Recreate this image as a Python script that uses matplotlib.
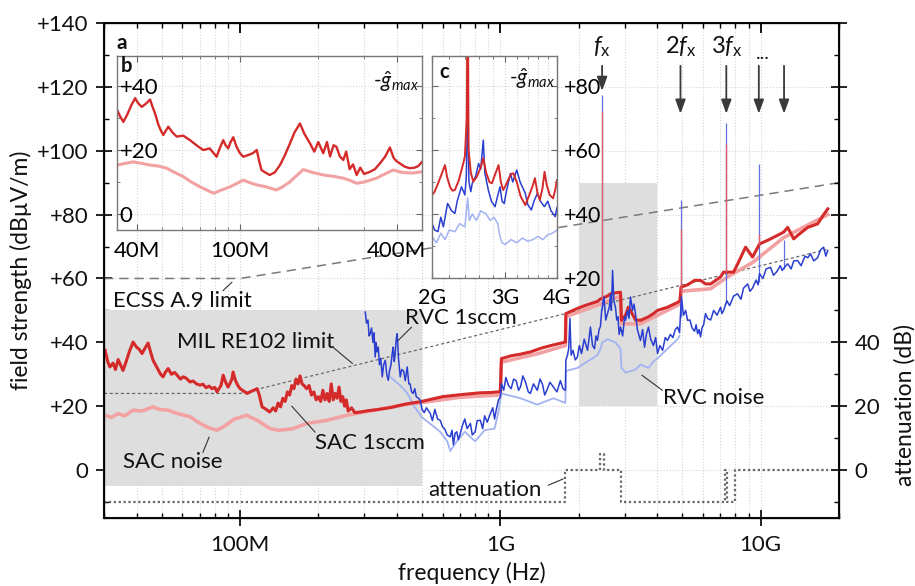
import numpy as np
import matplotlib
matplotlib.use("Agg")
import matplotlib.pyplot as plt
from matplotlib.ticker import FixedLocator, FuncFormatter, NullFormatter, MultipleLocator, LogLocator
from matplotlib.patches import Rectangle

plt.rcParams["font.family"] = ["Lato", "DejaVu Sans"]
plt.rcParams["mathtext.fontset"] = "custom"
plt.rcParams["mathtext.rm"] = "Lato"
plt.rcParams["mathtext.it"] = "Lato:italic"
plt.rcParams["mathtext.bf"] = "Lato:bold"

MHZ = 1e6

# ---------------- main panel data (frequency in MHz, level in dB) ----------------
sac_1sccm_f = [30.3, 31.0, 31.6, 32.5, 33.2, 34.0, 34.7, 35.5, 36.5, 37.5,
               38.8, 40.0, 41.0, 42.0, 43.0, 44.3, 45.3, 46.3, 48.0, 49.5,
               50.6, 51.5, 52.9, 54.5, 56.0, 57.3, 59.0, 60.5, 62.0, 64.2,
               66.0, 68.0, 70.2, 72.0, 74.0, 76.0, 78.0, 80.0, 81.5, 83.0,
               84.5, 86.1, 88.0, 89.9, 91.5, 93.0, 94.0, 96.0, 98.0, 100,
               103, 106.4, 110, 113, 116.3, 118.5, 121.5, 125, 130, 134,
               137, 140, 143, 146, 149, 152, 155, 158, 161, 164,
               167, 170, 173, 176, 180, 184, 188, 192, 196, 200,
               204, 208, 212, 216, 220, 224, 228, 232, 236, 240,
               244, 248, 252, 256, 260, 268, 276, 290, 310, 340,
               380, 440, 492, 524, 600, 700, 837, 920, 982, 1000,
               1009, 1100, 1194, 1304, 1450, 1600, 1778, 1785, 1900, 2000,
               2162, 2360, 2424, 2579, 2649, 2768, 2894,
               2919, 3027, 3100, 3162, 3304, 3452, 3707, 3874, 4017, 4385,
               4794, 4900, 4945, 5238, 5574, 5875, 6140, 6425, 7017,
               7211, 7469, 7872, 8154, 8750, 9311, 9780,
               9900, 10920, 11220, 12250, 12700, 13400, 13870, 15170, 16550,
               17460, 18110]
sac_1sccm_db = [37.5, 34.0, 32.3, 33.5, 31.5, 34.6, 33.0, 31.2, 34.0, 37.0,
                40.1, 38.5, 37.8, 36.5, 38.0, 39.8, 37.0, 34.4, 32.0, 30.0,
                29.2, 30.5, 31.8, 30.0, 30.6, 29.7, 28.5, 29.2, 28.8, 27.6,
                27.9, 27.0, 26.6, 26.9, 25.8, 26.3, 25.5, 25.9, 24.5, 25.5,
                26.5, 29.7, 27.5, 26.0, 27.2, 28.5, 30.7, 28.0, 26.5, 25.5,
                24.8, 24.0, 24.6, 25.0, 25.5, 23.5, 19.8, 19.2, 18.2, 19.5,
                18.5, 21.0, 19.8, 22.5, 21.5, 24.5, 23.5, 26.5, 25.5, 28.5,
                27.0, 29.5, 27.0, 26.5, 25.5, 26.5, 23.5, 24.5, 22.0, 23.0,
                21.5, 25.0, 22.0, 24.0, 21.5, 27.0, 22.0, 24.0, 22.5, 26.0,
                21.5, 23.0, 20.0, 22.0, 18.5, 19.5, 18.0, 18.2, 18.6, 19.0,
                19.6, 20.8, 21.4, 21.9, 23.0, 23.6, 24.2, 24.3, 24.5, 24.6,
                34.9, 35.8, 36.3, 37.0, 38.3, 39.2, 40.1, 49.0, 50.0, 50.8,
                51.8, 52.8, 53.6, 54.5, 55.2, 55.5, 55.7,
                46.9, 48.5, 51.0, 50.0, 47.0, 46.9, 48.0, 49.0, 50.0, 51.0,
                52.5, 53.0, 57.3, 58.0, 59.4, 59.4, 58.3, 58.3, 60.5,
                62.0, 62.0, 62.0, 64.5, 69.8, 66.7, 70.0,
                70.8, 72.4, 72.9, 74.5, 76.0, 72.4, 73.5, 76.0, 77.1,
                80.0, 81.8]

sac_noise_f = [30.3, 32, 34, 36, 38.8, 42, 46.3, 49, 52.9, 57,
               64.2, 70.2, 76, 81.5, 86, 90, 95, 100, 106, 110,
               116.3, 122, 130.4, 140, 150, 160, 180, 216, 258, 330,
               412, 524, 700, 982, 1000, 1009, 1400, 1778, 1785, 2424,
               2894, 2919, 3450, 4900, 4945, 6425, 7469, 9311, 12250, 18110]
sac_noise_db = [17.2, 16.5, 17.7, 17.0, 18.75, 18.5, 19.8, 19.0, 18.75, 17.8,
                16.7, 14.6, 13.2, 12.5, 13.5, 14.6, 16.0, 16.5, 17.2, 16.5,
                15.6, 14.5, 13.0, 12.5, 12.7, 13.0, 14.6, 15.6, 17.2, 18.75,
                20.3, 21.4, 22.8, 23.5, 23.6, 33.8, 36.5, 39.0, 48.0, 52.0,
                54.5, 45.8, 45.8, 52.0, 56.0, 56.8, 60.5, 65.0, 72.8, 80.0]

rvc_1sccm_f = [302.6, 306, 310, 313, 316.2, 320, 324, 327, 330.4, 333,
               336, 339.6, 343, 347, 351.7, 356, 361.3, 366, 370.9, 375,
               380, 384, 387.6, 391, 394, 398, 401.5, 406, 412.4, 418,
               425, 431, 438.5, 445, 450, 456, 462.6, 469, 475, 484,
               492.4, 500, 510, 520, 538, 548, 560, 574, 587, 600,
               610, 625, 642, 652, 660, 670, 680, 690, 701.7, 715,
               730, 745, 767, 780, 800, 815, 837.5, 855, 870, 890,
               915.5, 935, 950, 965, 982.5, 1000, 1009, 1030, 1050, 1075,
               1100, 1125, 1150, 1175, 1194, 1220, 1250, 1280, 1304, 1340,
               1387, 1420, 1450, 1480, 1500, 1550, 1600, 1650, 1700, 1740,
               1778, 1785, 1811, 1830, 1850, 1870, 1900, 1940, 1977, 2010,
               2050, 2100, 2162, 2190, 2218, 2260, 2300, 2330, 2360, 2395,
               2424, 2450, 2480, 2500, 2540, 2579, 2620, 2649, 2670,
               2698, 2730, 2768, 2800, 2830, 2860, 2894, 2950, 3000, 3027,
               3080, 3120, 3162, 3220, 3260, 3304, 3360, 3400, 3452, 3520,
               3580, 3640, 3707, 3780, 3874, 3950, 4017, 4100, 4200, 4300,
               4385, 4500, 4600, 4700, 4794, 4880, 4960, 5050, 5150,
               5238, 5350, 5450, 5574, 5650, 5727, 5800, 5875, 5950, 6037,
               6140, 6255, 6425, 6600, 6800, 7017, 7100, 7211, 7340,
               7420, 7600, 7872, 8154, 8400, 8600, 8912, 9100, 9311, 9600,
               9780, 9900, 10200, 10500, 10920, 11200, 11500, 11900, 12100,
               12350, 12700, 13100, 13400, 13870, 14300, 14800, 15170, 15560, 16000,
               16550, 17000, 17460, 17800, 18110]
rvc_1sccm_db = [49.5, 46.0, 47.0, 42.0, 42.7, 44.5, 40.0, 43.0, 35.4, 40.0,
                37.0, 38.5, 33.0, 35.0, 29.2, 33.0, 34.4, 30.0, 28.1, 31.0,
                33.0, 36.5, 38.5, 34.0, 36.0, 41.0, 42.7, 35.0, 29.2, 31.5,
                31.0, 28.0, 32.3, 27.0, 27.0, 24.5, 24.0, 25.5, 23.0, 22.5,
                21.9, 19.0, 18.0, 19.5, 17.7, 15.5, 19.0, 16.0, 15.6, 13.5,
                13.0, 11.0, 10.4, 12.5, 8.0, 11.5, 12.0, 9.5, 11.5, 14.0,
                16.0, 13.0, 14.6, 11.0, 12.0, 15.5, 15.6, 13.0, 17.0, 15.0,
                17.7, 19.5, 16.0, 19.0, 21.9, 23.0, 27.1, 25.0, 29.0, 26.5,
                25.5, 28.5, 28.0, 25.0, 26.0, 29.5, 27.5, 24.5, 24.0, 27.0,
                25.0, 28.5, 27.0, 23.5, 24.5, 27.5, 26.0, 24.5, 28.0, 25.5,
                25.0, 34.4, 36.0, 38.0, 47.5, 36.0, 37.5, 34.5, 35.4, 39.0,
                36.5, 41.0, 37.5, 41.0, 44.8, 39.0, 38.0, 42.0, 40.6, 44.0,
                45.0, 50.0, 52.0, 54.2, 47.0, 49.0, 51.0, 55.0, 50.0,
                62.5, 53.0, 51.0, 47.0, 48.0, 42.5, 44.8, 42.0, 48.0, 46.9,
                50.0, 47.5, 54.2, 50.0, 52.0, 49.0, 44.0, 42.5, 40.6, 44.0,
                38.5, 42.5, 44.8, 41.0, 39.0, 41.5, 36.5, 39.0, 37.5, 41.5,
                40.6, 42.5, 41.5, 44.0, 44.8, 43.0, 54.2, 48.5, 50.0,
                46.9, 47.0, 44.5, 43.5, 45.5, 42.7, 44.0, 41.7, 44.5, 45.5,
                49.0, 47.5, 47.0, 50.0, 48.5, 51.0, 49.0, 50.0, 52.0,
                53.0, 51.5, 54.5, 55.2, 53.5, 57.0, 58.3, 56.0, 57.0, 59.5,
                58.0, 61.5, 60.0, 63.0, 63.5, 61.0, 62.0, 64.0, 62.5,
                63.5, 64.6, 63.0, 65.5, 65.6, 64.0, 67.0, 66.5, 67.7, 65.5,
                66.5, 69.0, 69.8, 67.0, 68.75]

rvc_noise_f = [380, 412, 440, 462, 500, 538, 587, 625, 642, 680,
               730, 800, 870, 950, 982, 1009, 1194, 1387, 1600, 1778,
               1785, 1977, 2162, 2360, 2424, 2466, 2579, 2768, 2894, 2919,
               3027, 3162, 3304, 3452, 3707, 3874, 4017, 4385, 4794, 4880]
rvc_noise_db = [29.0, 26.5, 24.0, 20.5, 16.5, 14.5, 12.0, 9.0, 6.0, 9.0,
                12.0, 9.0, 12.5, 13.0, 18.0, 24.0, 22.5, 20.5, 22.5, 21.0,
                31.0, 32.0, 34.0, 36.0, 38.0, 40.0, 41.0, 40.0, 38.0, 32.0,
                30.5, 31.0, 31.5, 33.0, 32.0, 34.0, 35.0, 38.0, 41.0, 42.0]

# narrow emission lines at the harmonics of the drive frequency
red_line_f = [2466, 4924, 7380, 9840]
red_line_base = [53.6, 55.0, 62.0, 70.4]
red_line_top = [112.5, 75.6, 102.0, 74.0]
blue_line_f = [2466, 4924, 7380, 9840, 12250]
blue_line_base = [50.0, 48.0, 52.0, 59.0, 63.0]
blue_line_top = [117.5, 84.7, 108.7, 96.0, 71.9]

attenuation_f = [30, 1778, 1778, 2420, 2420, 2510, 2510, 2919,
                 2919, 7300, 7300, 7450, 7450, 8000, 8000, 18110]
attenuation_db = [-10, -10, 0, 0, 5, 5, 0, 0,
                  -10, -10, 0, 0, -10, -10, 0, 0]

ecss_f = [30, 100, 20000]
ecss_db = [60, 60, 90]
mil_f = [30, 100, 18000]
mil_db = [24, 24, 69.1]

# frequency bands magnified in insets b and c (MHz, dB)
band_b = (30, 500, -5, 50)
band_c = (2000, 4000, 20, 90)

# harmonics of the drive frequency
fx_mhz = 2460
harmonics = [1, 2, 3, 4, 5]
harmonic_labels = [r"$f_\mathrm{x}$", r"$2f_\mathrm{x}$", r"$3f_\mathrm{x}$", "...", None]

# ---------------- inset b data: -g_max (dB) ----------------
gb_1sccm_f = [33.7, 34.6, 35.6, 36.8, 38.2, 39.5, 40.7, 41.9, 43.5, 45.1,
              46.1, 47.1, 48.5, 49.7, 50.7, 51.8, 53.0, 55.0, 57.1, 60.5,
              64.2, 68.0, 72.2, 76.5, 81.3, 83.5, 86.2, 88.0, 90.1, 92.0,
              94.2, 97.0, 100, 103, 108, 112, 116, 118.5, 121, 125,
              130, 136, 142.5, 149, 155.7, 162, 170, 177, 185.8, 193,
              200, 209, 216, 222, 229, 235, 242, 249.6, 256, 264,
              272, 281, 290, 300, 316, 330, 345, 362, 377, 390,
              400, 412, 430, 450, 470, 485, 501]
gb_1sccm_db = [32.5, 30.5, 28.8, 31.0, 34.0, 36.2, 34.5, 33.5, 34.5, 35.8,
               33.5, 31.5, 28.0, 26.0, 24.7, 26.0, 27.3, 25.5, 24.2, 24.5,
               23.1, 21.5, 20.0, 20.5, 17.9, 20.5, 23.1, 21.5, 20.5, 22.5,
               24.0, 21.0, 19.0, 17.9, 18.5, 19.0, 20.0, 16.5, 13.75, 13.0,
               12.2, 13.0, 15.3, 18.5, 22.1, 25.5, 28.3, 25.0, 22.1, 19.5,
               22.5, 19.0, 22.5, 18.0, 21.5, 21.0, 18.0, 16.9, 19.5, 14.0,
               15.5, 12.2, 14.5, 12.5, 13.2, 14.0, 15.8, 18.0, 20.8, 17.5,
               16.5, 15.8, 14.8, 14.3, 14.5, 15.0, 16.3]
gb_noise_f = [33.7, 36, 38.9, 42, 45.1, 48.5, 52.3, 56, 60.5, 65,
              70.2, 74.5, 79.0, 85, 91.5, 97, 103, 109, 116, 126,
              138, 146, 155.7, 165, 175, 190, 209, 228, 249.6, 265,
              281, 300, 335, 360, 389, 420, 460, 501]
gb_noise_db = [15.3, 15.8, 16.3, 15.8, 15.3, 15.0, 14.3, 13.0, 11.7, 10.0,
               8.5, 7.5, 6.5, 7.5, 8.5, 9.5, 10.6, 9.8, 9.1, 8.5,
               7.5, 8.5, 10.1, 12.0, 13.9, 13.0, 12.2, 11.8, 11.2, 10.5,
               9.6, 10.0, 11.2, 12.5, 13.75, 13.0, 12.8, 13.2]

# ---------------- inset c data: -g_max (dB) ----------------
gc_sac_f = [2000, 2030, 2067, 2110, 2149, 2175, 2210, 2240, 2271, 2320,
            2378, 2400, 2425, 2438, 2450, 2480, 2514, 2560, 2620, 2658,
            2700, 2750, 2788, 2840, 2893, 2930, 2968, 3010, 3060, 3100,
            3141, 3200, 3270, 3355, 3420, 3500, 3539, 3590, 3636, 3690,
            3733, 3780, 3840, 3914, 3960, 4000]
gc_sac_db = [45.9, 47.0, 49.5, 52.5, 55.3, 51.5, 48.5, 47.3, 47.5, 50.5,
             55.8, 58.0, 70.0, 120.0, 60.0, 53.0, 50.1, 51.5, 54.5, 57.4,
             53.0, 50.0, 49.6, 52.5, 55.3, 50.0, 47.5, 49.0, 51.0, 52.5,
             52.7, 50.0, 45.5, 42.8, 45.5, 49.0, 51.2, 46.5, 44.4, 48.0,
             53.2, 49.0, 46.0, 44.9, 47.5, 50.6]
gc_rvc_f = [2000, 2030, 2067, 2100, 2130, 2180, 2230, 2271, 2300, 2355,
            2400, 2420, 2438, 2455, 2480, 2500, 2550, 2589, 2620, 2658,
            2680, 2733, 2780, 2837, 2870, 2916, 2950, 2985, 3020, 3090,
            3130, 3200, 3260, 3355, 3400, 3470, 3520, 3590, 3650, 3730,
            3800, 3870, 3960, 4000]
gc_rvc_db = [37.0, 35.0, 34.5, 39.0, 36.0, 43.3, 41.0, 40.2, 44.0, 48.5,
             46.0, 52.0, 75.0, 50.0, 47.0, 49.6, 52.0, 55.8, 54.0, 63.1,
             53.0, 47.5, 44.0, 42.3, 45.0, 48.5, 44.0, 43.3, 47.0, 52.7,
             50.0, 53.75, 50.0, 46.5, 43.0, 41.25, 44.0, 46.5, 44.0, 42.3,
             44.0, 41.0, 39.2, 42.0]
gc_noise_f = [2000, 2050, 2100, 2150, 2200, 2271, 2330, 2400, 2438, 2460,
              2500, 2560, 2620, 2700, 2760, 2820, 2880, 2916, 2950, 3000,
              3100, 3200, 3300, 3400, 3500, 3600, 3700, 3800, 3900, 4000]
gc_noise_db = [33.0, 31.0, 34.0, 32.0, 35.0, 34.5, 37.0, 36.0, 45.0, 38.0,
               40.0, 38.0, 41.0, 40.0, 38.0, 39.0, 37.0, 33.0, 31.0, 30.5,
               32.0, 31.0, 32.5, 31.5, 32.0, 33.0, 32.0, 33.5, 34.0, 35.0]

# ---------------- styling ----------------
RED = "#d42a2a"
LRED = "#f2a2a2"
BLUE = "#2a3ed0"
LBLUE = "#a3b2f2"
SHADE = "#dedede"
GRID = "#d4d4d4"
INK = "#111111"
FS = 16


def hz(values):
    return np.asarray(values, dtype=float) * MHZ


W, H = 915, 586


def rect(l, t, r, b):
    return [l / W, 1 - b / H, (r - l) / W, (b - t) / H]


fig = plt.figure(figsize=(W / 100, H / 100), dpi=100)
ax = fig.add_axes(rect(104, 23, 839, 518))
ax.set_xscale("log")
ax.set_xlim(30e6, 20e9)
ax.set_ylim(-15, 140)

ax.set_axisbelow(True)
ax.grid(True, axis="y", which="major", color=GRID, ls=":", lw=0.8)
ax.grid(True, axis="x", which="both", color=GRID, ls=":", lw=0.8)

for (f0, f1, y0, y1) in (band_b, band_c):
    ax.add_patch(Rectangle((f0 * MHZ, y0), (f1 - f0) * MHZ, y1 - y0,
                           facecolor=SHADE, edgecolor="none", zorder=1))

ax.plot(hz(ecss_f), ecss_db, color="#7a7a7a", lw=1.1, dashes=(6, 4), zorder=2)
ax.plot(hz(mil_f), mil_db, color="#6a6a6a", lw=0.9, dashes=(2.5, 2), zorder=2)
ax.plot(hz(attenuation_f), attenuation_db, color="#666666", lw=1.6,
        linestyle=(0, (1, 1.2)), zorder=2)

ax.plot(hz(sac_noise_f), sac_noise_db, color=LRED, lw=2.6, zorder=3)
ax.plot(hz(rvc_noise_f), rvc_noise_db, color=LBLUE, lw=1.3, zorder=3)
ax.plot(hz(sac_1sccm_f), sac_1sccm_db, color=RED, lw=2.2, zorder=4)
ax.vlines(hz(red_line_f), red_line_base, red_line_top, color="#e0606a", lw=1.0, zorder=4)
ax.plot(hz(rvc_1sccm_f), rvc_1sccm_db, color=BLUE, lw=1.1, zorder=5)
ax.vlines(hz(blue_line_f), blue_line_base, blue_line_top, color="#6070e0", lw=0.9, zorder=3.5)

# axes, ticks
for s in ax.spines.values():
    s.set_linewidth(1.5)
    s.set_color(INK)
ax.yaxis.set_major_locator(MultipleLocator(20))
ax.yaxis.set_minor_locator(MultipleLocator(10))
ax.yaxis.set_major_formatter(FuncFormatter(lambda v, _: "0" if v == 0 else f"+{v:.0f}"))
ax.xaxis.set_major_locator(FixedLocator([1e8, 1e9, 1e10]))
ax.xaxis.set_major_formatter(FuncFormatter(lambda v, _: {1e8: "100M", 1e9: "1G", 1e10: "10G"}.get(v, "")))
ax.xaxis.set_minor_locator(LogLocator(base=10, subs=np.arange(2, 10)))
ax.xaxis.set_minor_formatter(NullFormatter())
ax.tick_params(which="major", direction="inout", length=12, width=1.3, labelsize=FS,
               colors=INK, top=False, right=False)
ax.tick_params(axis="y", which="major", pad=5)
ax.tick_params(axis="x", which="major", pad=6)
ax.tick_params(which="minor", direction="in", length=3.5, width=1.0, top=False, right=False)
ax.set_xlabel("frequency (Hz)", fontsize=16.5, color=INK, labelpad=5)
ax.set_ylabel("field strength (dBµV/m)", fontsize=16.5, color=INK, labelpad=4)

ax_top = ax.twiny()
ax_top.set_xscale("log")
ax_top.set_xlim(ax.get_xlim())
ax_top.xaxis.set_major_locator(FixedLocator([1e8, 1e9, 1e10]))
ax_top.xaxis.set_minor_locator(LogLocator(base=10, subs=np.arange(2, 10)))
ax_top.xaxis.set_major_formatter(NullFormatter())
ax_top.xaxis.set_minor_formatter(NullFormatter())
ax_top.tick_params(which="major", direction="in", length=7, width=1.3)
ax_top.tick_params(which="minor", direction="in", length=3.5, width=1.0)

ax_r = ax.twinx()
ax_r.set_ylim(ax.get_ylim())
ax_r.yaxis.set_major_locator(MultipleLocator(20))
ax_r.yaxis.set_minor_locator(MultipleLocator(10))
ax_r.yaxis.set_major_formatter(FuncFormatter(lambda v, _: f"{v:.0f}" if 0 <= v <= 40 else ""))
ax_r.tick_params(which="major", direction="inout", length=12, width=1.3, labelsize=FS, pad=5, colors=INK)
ax_r.tick_params(which="minor", direction="in", length=3.5, width=1.0)
ax_r.set_ylabel("attenuation (dB)", fontsize=16.5, color=INK)
ax_r.yaxis.set_label_coords(1.075, 0.228)


# text labels with leader lines (positions in Hz, dB)
def leader(text, text_xy, p0, p1):
    ax.text(text_xy[0], text_xy[1], text, fontsize=FS, color=INK, ha="left", va="center", zorder=6)
    ax.plot([p0[0], p1[0]], [p0[1], p1[1]], color="#333333", lw=0.8, zorder=6)


leader("ECSS A.9 limit", (32.4e6, 53.1), (86e6, 56.2), (93e6, 58.8))
leader("MIL RE102 limit", (57.3e6, 40.0), (228e6, 38.4), (270e6, 33.4))
leader("SAC noise", (35.5e6, 2.5), (72e6, 5.6), (76e6, 10.3))
leader("SAC 1sccm", (194e6, 8.4), (194e6, 11.9), (158e6, 20.0))
leader("RVC 1sccm", (431e6, 47.5), (455e6, 44.7), (405e6, 40.6))
leader("RVC noise", (4.2e9, 22.5), (4.19e9, 25.0), (3.5e9, 29.7))
leader("attenuation", (528e6, -6.25), (1.53e9, -4.7), (1.74e9, -2.8))

ax.text(33.6e6, 133.7, "a", fontsize=15, fontweight="bold", color=INK, ha="left", va="center")

# harmonic markers
for n, lab in zip(harmonics, harmonic_labels):
    f = n * fx_mhz * MHZ
    tip = 118.75 if n == 1 else 111.6
    ax.annotate("", xy=(f, tip), xytext=(f, 126.6),
                arrowprops=dict(arrowstyle="-|>,head_length=0.6,head_width=0.22",
                                color="#3a3a3a", lw=1.3, mutation_scale=14,
                                shrinkA=0, shrinkB=0))
    if lab == "...":
        ax.text(f * 1.04, 128.8, lab, fontsize=14, ha="center", va="baseline", color=INK)
    elif lab:
        ax.text(f, 130.4, lab, fontsize=17, ha="center", va="baseline", color=INK)

# ---------------- inset b ----------------
axb = fig.add_axes(rect(117, 56, 422, 230))
axb.set_xscale("log")
axb.set_xlim(33.65e6, 501e6)
axb.set_ylim(-5, 49.4)
axb.set_axisbelow(True)
axb.plot(hz(gb_noise_f), gb_noise_db, color=LRED, lw=2.2)
axb.plot(hz(gb_1sccm_f), gb_1sccm_db, color=RED, lw=1.7)
axb.xaxis.set_major_locator(FixedLocator([4e7, 1e8, 4e8]))
axb.xaxis.set_major_formatter(FuncFormatter(lambda v, _: {4e7: "40M", 1e8: "100M", 4e8: "400M"}.get(v, "")))
axb.xaxis.set_minor_locator(FixedLocator([5e7, 6e7, 7e7, 8e7, 9e7, 2e8, 3e8]))
axb.xaxis.set_minor_formatter(NullFormatter())
axb.yaxis.set_major_locator(MultipleLocator(20))
axb.yaxis.set_minor_locator(MultipleLocator(10))
axb.yaxis.set_major_formatter(FuncFormatter(lambda v, _: "0" if v == 0 else f"+{v:.0f}"))
axb.grid(True, which="both", axis="x", color=GRID, ls=":", lw=0.8)
axb.grid(True, which="major", axis="y", color=GRID, ls=":", lw=0.8)
axb.tick_params(which="both", direction="in", top=True, right=True, color="#666666", labelsize=FS)
axb.tick_params(which="major", length=4)
axb.tick_params(which="minor", length=2.5)
axb.tick_params(axis="x", pad=8)
axb.tick_params(axis="y", pad=-2)
for lbl in axb.get_yticklabels():
    lbl.set_horizontalalignment("left")
for s in axb.spines.values():
    s.set_color("#777777")
    s.set_linewidth(1.0)
axb.text(0.013, 0.94, "b", transform=axb.transAxes, fontsize=14.5, fontweight="bold",
         ha="left", va="center", color=INK)
axb.text(0.99, 0.85, r"-$\hat{g}_{max}$", transform=axb.transAxes, fontsize=15,
         ha="right", va="center", color=INK)

# ---------------- inset c ----------------
axc = fig.add_axes(rect(432, 56, 557, 278))
axc.set_xscale("log")
axc.set_xlim(2e9, 4e9)
axc.set_ylim(20, 89.4)
axc.set_axisbelow(True)
axc.plot(hz(gc_noise_f), gc_noise_db, color=LBLUE, lw=1.1)
axc.plot(hz(gc_rvc_f), gc_rvc_db, color=BLUE, lw=1.1)
axc.plot(hz(gc_sac_f), gc_sac_db, color=RED, lw=1.4)
axc.xaxis.set_major_locator(FixedLocator([2e9, 3e9, 4e9]))
axc.xaxis.set_major_formatter(FuncFormatter(lambda v, _: {2e9: "2G", 3e9: "3G", 4e9: "4G"}.get(v, "")))
axc.xaxis.set_minor_locator(FixedLocator([2.2e9, 2.4e9, 2.6e9, 2.8e9, 3.2e9, 3.4e9, 3.6e9, 3.8e9]))
axc.xaxis.set_minor_formatter(NullFormatter())
axc.yaxis.set_major_locator(MultipleLocator(20))
axc.yaxis.set_minor_locator(MultipleLocator(10))
axc.yaxis.set_major_formatter(FuncFormatter(lambda v, _: f"+{v:.0f}"))
axc.grid(True, which="both", axis="x", color=GRID, ls=":", lw=0.8)
axc.grid(True, which="major", axis="y", color=GRID, ls=":", lw=0.8)
axc.tick_params(which="both", direction="in", top=True, right=True, left=True,
                labelleft=False, labelright=True, color="#666666")
axc.tick_params(axis="x", labelsize=15.5, pad=7)
axc.tick_params(axis="y", labelsize=15.5, pad=5)
axc.tick_params(which="major", length=4)
axc.tick_params(which="minor", length=2.5)
for s in axc.spines.values():
    s.set_color("#777777")
    s.set_linewidth(1.0)
axc.text(0.06, 0.93, "c", transform=axc.transAxes, fontsize=14.5, fontweight="bold",
         ha="left", va="center", color=INK)
axc.text(0.985, 0.9, r"-$\hat{g}_{max}$", transform=axc.transAxes, fontsize=15,
         ha="right", va="center", color=INK)

fig.savefig("out.png", dpi=100)
